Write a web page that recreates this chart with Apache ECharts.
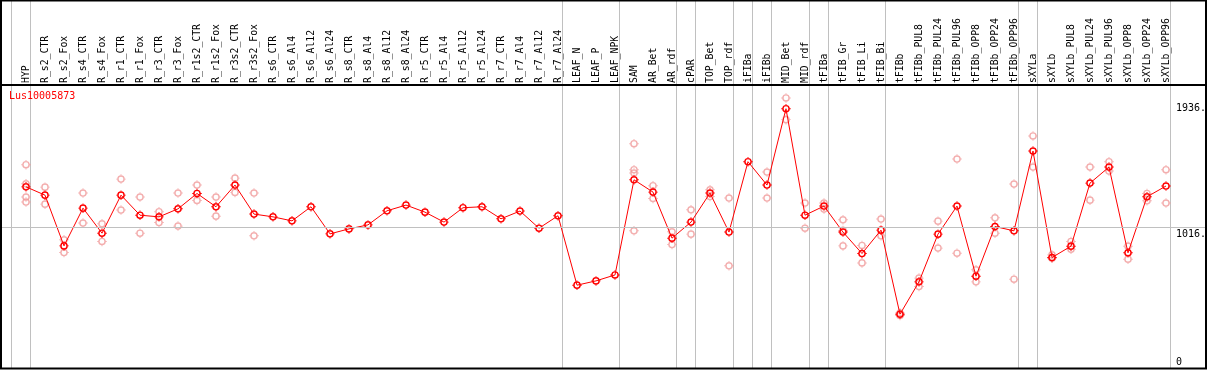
<!DOCTYPE html>
<html>
<head>
<meta charset="utf-8">
<script src="https://cdn.jsdelivr.net/npm/echarts@6/dist/echarts.min.js"></script>
<style>html,body{margin:0;padding:0;background:#fff;}#c{width:1209px;height:370px;}</style>
</head>
<body>
<div id="c"></div>
<script>
var titleText = 'Lus10005873';
var categories = ['HYP','R_s2_CTR','R_s2_Fox','R_s4_CTR','R_s4_Fox','R_r1_CTR','R_r1_Fox','R_r3_CTR','R_r3_Fox','R_r1s2_CTR','R_r1s2_Fox','R_r3s2_CTR','R_r3s2_Fox','R_s6_CTR','R_s6_Al4','R_s6_Al12','R_s6_Al24','R_s8_CTR','R_s8_Al4','R_s8_Al12','R_s8_Al24','R_r5_CTR','R_r5_Al4','R_r5_Al12','R_r5_Al24','R_r7_CTR','R_r7_Al4','R_r7_Al12','R_r7_Al24','LEAF_N','LEAF_P','LEAF_NPK','SAM','AR_Bet','AR_rdf','cPAR','TOP_Bet','TOP_rdf','iFIBa','iFIBb','MID_Bet','MID_rdf','tFIBa','tFIB_Gr','tFIB_Li','tFIB_Bi','tFIBb','tFIBb_PUL8','tFIBb_PUL24','tFIBb_PUL96','tFIBb_OPP8','tFIBb_OPP24','tFIBb_OPP96','sXYLa','sXYLb','sXYLb_PUL8','sXYLb_PUL24','sXYLb_PUL96','sXYLb_OPP8','sXYLb_OPP24','sXYLb_OPP96'];
var meanValues = [1310,1250,883,1156,975,1250,1105,1093,1151,1262,1166,1323,1113,1093,1064,1166,970,1006,1035,1137,1178,1127,1055,1159,1166,1079,1135,1011,1101,599,630,673,1361,1272,939,1055,1265,983,1492,1323,1875,1105,1171,983,828,997,389,623,968,1171,664,1023,992,1569,799,881,1337,1453,833,1238,1316];
var replicates = [[1470,1332,1236,1200],[1308,1185],[927,835],[1265,1048],[1043,915],[1366,1142],[1236,975],[1130,1052],[1265,1026],[1323,1212],[1236,1098],[1373,1270],[1265,956],[],[],[],[],[],[],[],[],[],[],[],[],[],[],[],[],[],[],[],[1622,1434,1410,992],[1318,1226],[985,893],[1144,968],[1289,1240],[1229,739],[],[1417,1229],[1953,1796],[1193,1011],[1193,1149],[1072,995,883],[886,760],[1077,956],[380,398],[650,589],[1062,867],[1511,830],[710,623],[1086,975],[1330,642],[1678,1453],[818,794],[915,859],[1453,1214],[1492,1424],[881,787],[1262,1209],[1434,1193]];
var groupLastIndex = [-1,0,28,31,34,35,37,38,39,41,42,45,52,53,60];
var gridValue = 1016;
var tickValues = [1936, 1016, 0];
var tickLabels = ['1936.', '1016.', '0'];

var FONT = 'DejaVu Sans Mono';
var RED = '#ff0000', PINK = '#f09a9a', GREY = '#c0c0c0';
var Y_MAX = 2654;
var SYM = 'path://M1,5A4,4 0 1,1 9,5A4,4 0 1,1 1,5ZM2.5,5A2.5,2.5 0 1,0 7.5,5A2.5,2.5 0 1,0 2.5,5ZM4.5,0H5.5V1.6H4.5ZM4.5,8.4H5.5V10H4.5ZM0,4.5H1.6V5.5H0ZM8.4,4.5H10V5.5H8.4Z';

var meanData = meanValues.map(function(v,i){return [i,v];});
var repData = [];
replicates.forEach(function(arr,i){arr.forEach(function(v){repData.push([i,v]);});});

function padRight(s, n){ while (s.length < n) s += ' '; return s; }
var sepData = [];
groupLastIndex.forEach(function(i){
  var x = i + 4.5/19;
  sepData.push([x, 0], [x, Y_MAX], [x, '-']);
});
var labelLines = tickValues.map(function(v, k){
  return {yAxis: v, label:{show:true, formatter: padRight(tickLabels[k], 5),
    position: v === 0 ? 'insideEndTop' : 'insideEndBottom', distance: v === 0 ? [0, 1.5] : (v > gridValue ? [0, 4] : [0, 2.5]),
    color:'#000', fontFamily:FONT, fontSize:10, lineHeight:8}};
});

var chart = echarts.init(document.getElementById('c'), null, {renderer:'canvas'});
chart.setOption({
  animation:false,
  backgroundColor:'#fff',
  title:{text:titleText, left:9, top:91, padding:0, textStyle:{color:RED, fontSize:10, fontFamily:FONT, fontWeight:'normal'}},
  grid:[
    {left:2, right:3, top:1, bottom:2, containLabel:false},
    {left:16.5, right:33.5, top:85, height:10, containLabel:false}
  ],
  xAxis:[
    {type:'value', gridIndex:0, min:-1.2632, max:62.1053, show:false},
    {type:'category', gridIndex:1, position:'top', data:categories, boundaryGap:true,
     axisLine:{show:false}, axisTick:{show:false}, splitLine:{show:false},
     axisLabel:{rotate:90, margin:2, interval:0, fontFamily:FONT, fontSize:9.8, color:'#000'}}
  ],
  yAxis:[
    {type:'value', gridIndex:0, min:0, max:Y_MAX, show:false},
    {type:'value', gridIndex:1, min:0, max:1, show:false}
  ],
  series:[
    {type:'line', xAxisIndex:0, yAxisIndex:0, data:sepData, symbol:'none', connectNulls:false,
     lineStyle:{color:GREY, width:1}, z:1, silent:true,
     markLine:{silent:true, symbol:['none','none'], animation:false,
       lineStyle:{color:GREY, width:1, type:'solid'}, label:{show:false},
       data:[{yAxis: gridValue}]}},
    {type:'scatter', xAxisIndex:0, yAxisIndex:0, data:repData, symbol:SYM, symbolSize:9.5,
     itemStyle:{color:PINK}, z:2, silent:true},
    {type:'line', xAxisIndex:0, yAxisIndex:0, data:meanData, symbol:SYM, symbolSize:9.5, showAllSymbol:true,
     itemStyle:{color:RED}, lineStyle:{color:RED, width:1}, z:3, silent:true},
    {type:'line', xAxisIndex:0, yAxisIndex:0, data:[], silent:true, z:4,
     markLine:{silent:true, symbol:['none','none'], animation:false,
       lineStyle:{color:'rgba(0,0,0,0)', width:1, type:'solid'},
       data: labelLines}}
  ],
  graphic:[
    {type:'rect', shape:{x:1, y:0.5, width:1205, height:368}, style:{fill:'none', stroke:'#000', lineWidth:2}, z:100},
    {type:'line', shape:{x1:1, y1:85, x2:1206, y2:85}, style:{stroke:'#000', lineWidth:2}, z:100}
  ]
});
</script>
</body>
</html>
